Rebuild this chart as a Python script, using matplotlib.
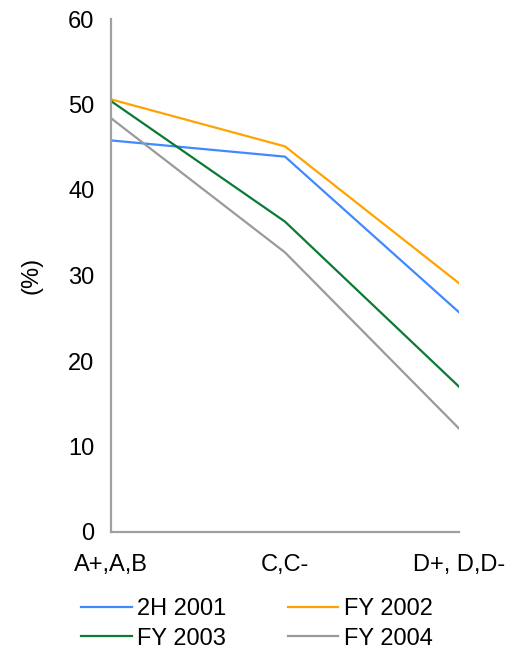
import matplotlib
matplotlib.use('Agg')
import matplotlib.pyplot as plt

plt.rcParams['font.family'] = ['Liberation Sans', 'DejaVu Sans']

# --- dados ---
categorias = ['A+,A,B', 'C,C-', 'D+, D,D-']
series = ['2H 2001', 'FY 2002', 'FY 2003', 'FY 2004']
h2_2001 = [45.8, 43.9, 25.7]
fy_2002 = [50.6, 45.1, 29.1]
fy_2003 = [50.4, 36.3, 17.0]
fy_2004 = [48.4, 32.7, 12.1]
cores = ['#4189ff', '#ffa300', '#0b7a34', '#9a9a9a']
yticks = [0, 10, 20, 30, 40, 50, 60]

W, H = 506, 652
fs = 17
fig = plt.figure(figsize=(W / 100, H / 100), dpi=100)
ax = fig.add_axes([111 / W, 1 - 532 / H, (459 - 111) / W, (532 - 19) / H])

x = range(len(categorias))
linhas = []
for nome, vals, cor in zip(series, [h2_2001, fy_2002, fy_2003, fy_2004], cores):
    l, = ax.plot(x, vals, color=cor, linewidth=1.6, label=nome)
    linhas.append(l)

ax.set_xlim(0, len(categorias) - 1)
ax.set_ylim(0, 60)
ax.set_yticks(yticks)
ax.set_xticks(list(x))
ax.set_xticklabels(categorias)

for s in ['top', 'right']:
    ax.spines[s].set_visible(False)
for s in ['left', 'bottom']:
    ax.spines[s].set_color('#a0a0a0')
    ax.spines[s].set_linewidth(1.6)

ax.tick_params(axis='y', length=0, pad=12, labelsize=fs)
ax.tick_params(axis='x', length=0, pad=16, labelsize=fs)

ax.set_ylabel('(%)', fontsize=fs)
ax.yaxis.set_label_coords(-0.198, 0.5)

# legenda em ordem por linha (matplotlib preenche por coluna)
ordem = [0, 2, 1, 3]
fig.legend([linhas[i] for i in ordem], [series[i] for i in ordem],
           loc='upper left', bbox_to_anchor=(81 / W, 1 - 598 / H),
           bbox_transform=fig.transFigure, ncol=2, frameon=False,
           fontsize=fs, handlelength=2.15, handletextpad=0.22,
           columnspacing=2.6, labelspacing=0.32, borderpad=0, borderaxespad=0)

fig.savefig('out.png', dpi=100)
